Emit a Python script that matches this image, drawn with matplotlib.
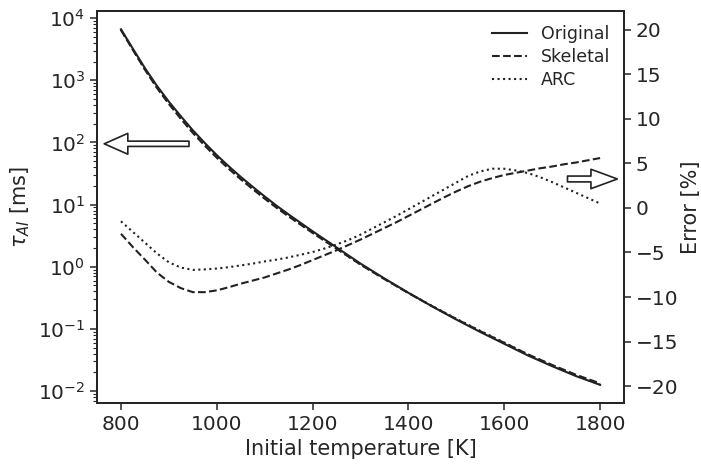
import matplotlib
matplotlib.use("Agg")
import matplotlib.pyplot as plt
import numpy as np

# Initial temperature [K], every 25 K
temps = [800, 825, 850, 875, 900, 925, 950, 975, 1000, 1025, 1050, 1075,
         1100, 1125, 1150, 1175, 1200, 1225, 1250, 1275, 1300, 1325, 1350,
         1375, 1400, 1425, 1450, 1475, 1500, 1525, 1550, 1575, 1600, 1625,
         1650, 1675, 1700, 1725, 1750, 1775, 1800]

# log10 of ignition delay of the original mechanism [ms]
log_tau_orig = [3.82, 3.505, 3.195, 2.91, 2.655, 2.42, 2.195, 1.99, 1.795,
                1.615, 1.445, 1.285, 1.13, 0.98, 0.84, 0.705, 0.57, 0.44,
                0.31, 0.18, 0.05, -0.07, -0.19, -0.305, -0.42, -0.53, -0.64,
                -0.745, -0.85, -0.95, -1.05, -1.145, -1.24, -1.335, -1.43,
                -1.515, -1.60, -1.68, -1.76, -1.83, -1.90]

# relative error of the reduced mechanisms [%]
err_skeletal = [-2.9, -4.4, -5.8, -7.25, -8.3, -9.0, -9.45, -9.45, -9.25,
                -8.9, -8.5, -8.15, -7.8, -7.35, -6.9, -6.4, -5.85, -5.3,
                -4.75, -4.15, -3.55, -2.9, -2.25, -1.6, -0.9, -0.2, 0.5, 1.2,
                1.85, 2.45, 2.95, 3.35, 3.7, 3.95, 4.2, 4.45, 4.65, 4.9, 5.1,
                5.35, 5.6]
err_arc = [-1.5, -2.7, -3.9, -5.1, -6.1, -6.7, -6.95, -6.9, -6.8, -6.65,
           -6.45, -6.25, -6.0, -5.8, -5.55, -5.25, -4.95, -4.55, -4.1, -3.6,
           -3.0, -2.3, -1.6, -0.9, -0.15, 0.6, 1.35, 2.1, 2.85, 3.6, 4.1,
           4.4, 4.4, 4.2, 3.9, 3.45, 2.9, 2.3, 1.7, 1.1, 0.5]


def main():
    plt.rcParams['font.family'] = 'DejaVu Sans'
    plt.rcParams['text.color'] = '#262626'
    plt.rcParams['axes.labelcolor'] = '#262626'
    plt.rcParams['xtick.color'] = '#262626'
    plt.rcParams['ytick.color'] = '#262626'
    plt.rcParams['axes.edgecolor'] = '#262626'

    T = np.array(temps, dtype=float)
    tau_orig = 10 ** np.array(log_tau_orig)
    # reduced mechanism delays follow from their error against the original
    tau_skel = tau_orig * (1 + np.array(err_skeletal) / 100)
    tau_arc = tau_orig * (1 + np.array(err_arc) / 100)

    fig = plt.figure(figsize=(7.01, 4.72), dpi=100)
    ax = fig.add_axes([0.1384, 0.146, 0.7518, 0.8307])
    ax2 = ax.twinx()

    lc = '#222222'
    l1, = ax.plot(T, tau_orig, '-', color=lc, lw=1.5, label='Original')
    l2, = ax.plot(T, tau_skel, '--', color=lc, lw=1.5, label='Skeletal')
    l3, = ax.plot(T, tau_arc, ':', color=lc, lw=1.5, label='ARC')
    ax2.plot(T, err_skeletal, '--', color=lc, lw=1.5)
    ax2.plot(T, err_arc, ':', color=lc, lw=1.5)

    ax.set_yscale('log')
    ax.set_ylim(6.4e-3, 1.3e4)
    ax.set_xlim(750, 1850)
    ax2.set_ylim(-21.9, 22.1)
    ax.set_xticks([800, 1000, 1200, 1400, 1600, 1800])
    ax2.set_yticks([-20, -15, -10, -5, 0, 5, 10, 15, 20])

    ax.set_xlabel('Initial temperature [K]', fontsize=15, labelpad=4)
    ax.set_ylabel(r'$\tau_{AI}$ [ms]', fontsize=15, labelpad=4)
    ax2.set_ylabel('Error [%]', fontsize=15, labelpad=2)

    for a in (ax, ax2):
        a.tick_params(which='major', labelsize=14.5, length=5, width=1.1,
                      direction='out')
        a.tick_params(which='minor', length=3, width=0.8)
        for s in a.spines.values():
            s.set_linewidth(1.4)

    # arrows showing which axis each group of curves belongs to
    ax.annotate('', xy=(765, 95), xytext=(942, 95),
                arrowprops=dict(arrowstyle='simple,head_length=1.7,'
                                'head_width=1.5,tail_width=0.38',
                                mutation_scale=10, fc='white', ec=lc,
                                lw=1.2, shrinkA=0, shrinkB=0))
    ax2.annotate('', xy=(1836, 3.25), xytext=(1732, 3.25),
                 arrowprops=dict(arrowstyle='simple,head_length=1.9,'
                                 'head_width=1.4,tail_width=0.42',
                                 mutation_scale=10, fc='white', ec=lc,
                                 lw=1.2, shrinkA=0, shrinkB=0))

    ax2.legend(handles=[l1, l2, l3], loc='upper right', frameon=False,
               fontsize=12.5, handlelength=2.0, borderaxespad=0.4,
               labelspacing=0.3)

    fig.savefig('out.png', dpi=100)


if __name__ == "__main__":
    main()
